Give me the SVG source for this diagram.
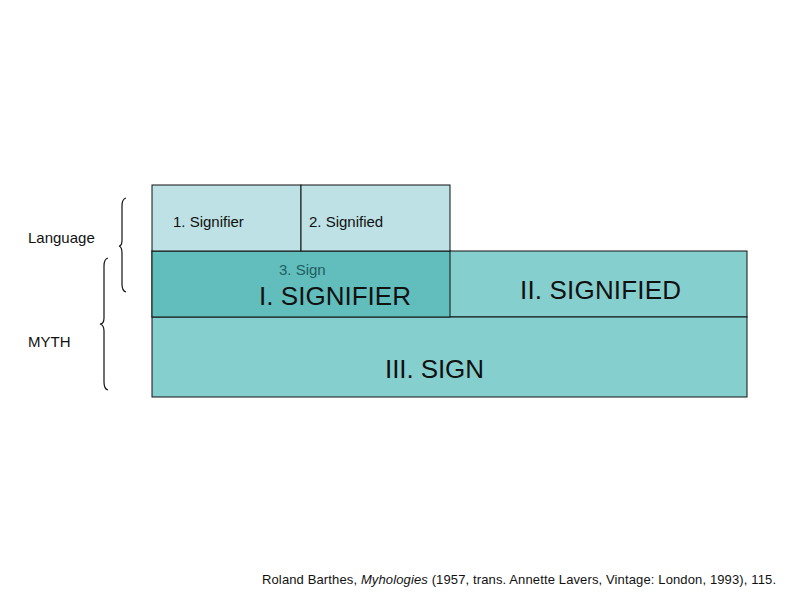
<svg xmlns="http://www.w3.org/2000/svg" width="794" height="595" viewBox="0 0 794 595">
<style>
text{font-family:"Liberation Sans",Arial,sans-serif;fill:#111}
.box{stroke:#111;stroke-width:1}
.small{font-size:15px}
.big{font-size:26px}
.brace{fill:none;stroke:#111;stroke-width:1.2}
</style>
<rect width="794" height="595" fill="#fff"/>
<g id="signified-II">
<rect class="box" x="152" y="251" width="595" height="66" fill="#86cfcf"/>
<text class="big" x="520" y="299" textLength="161">II. SIGNIFIED</text>
</g>
<g id="sign-III">
<rect class="box" x="152" y="317" width="595" height="80" fill="#86cfcf"/>
<text class="big" x="385" y="378" textLength="99">III. SIGN</text>
</g>
<g id="signifier-I">
<rect class="box" x="152" y="251" width="298" height="66" fill="#62bdbd"/>
<text class="small" x="279" y="275" style="fill:#1d5f60">3. Sign</text>
<text class="big" x="259" y="305" textLength="152">I. SIGNIFIER</text>
</g>
<g id="signifier-1">
<rect class="box" x="152" y="185" width="149" height="66" fill="#bde1e4"/>
<text class="small" x="173" y="227">1. Signifier</text>
</g>
<g id="signified-2">
<rect class="box" x="301" y="185" width="149" height="66" fill="#bde1e4"/>
<text class="small" x="309" y="227">2. Signified</text>
</g>
<g id="language">
<path class="brace" d="M126 198 Q122 199 122 206 L122 240 Q122 246 119 246 Q122 247 122 253 L122 284 Q122 291 126 292"/>
<text class="small" x="28" y="243">Language</text>
</g>
<g id="myth">
<path class="brace" d="M108 258 Q104 259 104 266 L104 318 Q104 324 100 324 Q104 325 104 331 L104 382 Q104 389 108 390"/>
<text class="small" x="28" y="347">MYTH</text>
</g>
<g id="citation">
<text x="262" y="584" style="font-size:13px" textLength="514">Roland Barthes, <tspan font-style="italic">Myhologies</tspan> (1957, trans. Annette Lavers, Vintage: London, 1993), 115.</text>
</g>
</svg>
